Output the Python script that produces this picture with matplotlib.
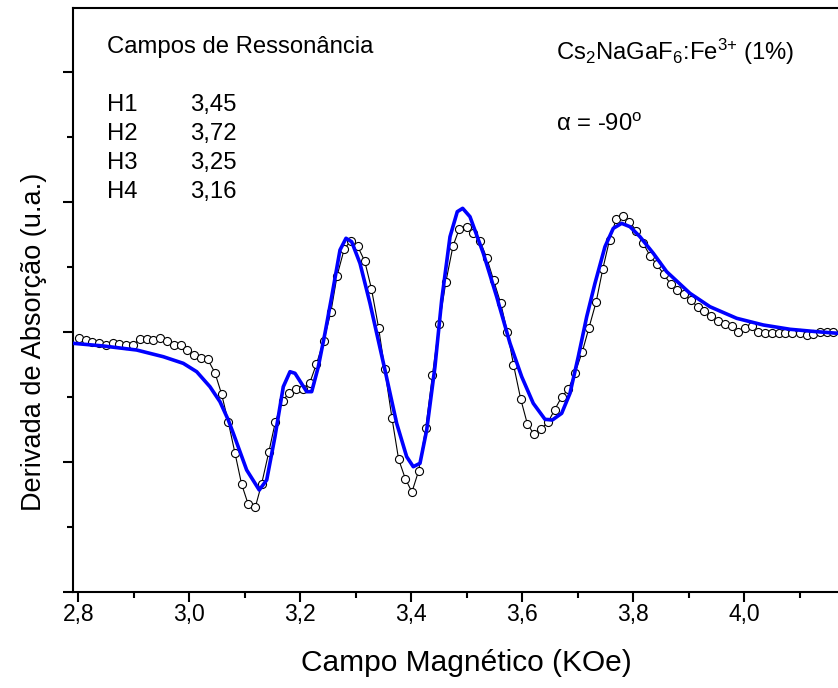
import matplotlib
matplotlib.use("Agg")
import matplotlib.pyplot as plt
from matplotlib.ticker import FuncFormatter, MultipleLocator

plt.rcParams["font.family"] = ["Liberation Sans", "DejaVu Sans"]
plt.rcParams["mathtext.default"] = "regular"

# experimental spectrum (open circles)
field_exp = [2.801, 2.813, 2.825, 2.838, 2.850, 2.862, 2.874, 2.886, 2.898, 2.911,
             2.923, 2.935, 2.947, 2.959, 2.972, 2.984, 2.996, 3.008, 3.021, 3.033,
             3.046, 3.058, 3.070, 3.082, 3.094, 3.106, 3.119, 3.130, 3.143, 3.155,
             3.168, 3.180, 3.193, 3.205, 3.217, 3.229, 3.242, 3.255, 3.266, 3.279,
             3.291, 3.303, 3.316, 3.328, 3.341, 3.352, 3.365, 3.377, 3.389, 3.401,
             3.413, 3.426, 3.438, 3.450, 3.462, 3.475, 3.486, 3.500, 3.511, 3.524,
             3.536, 3.548, 3.561, 3.573, 3.584, 3.597, 3.609, 3.621, 3.634, 3.646,
             3.658, 3.671, 3.683, 3.695, 3.708, 3.720, 3.733, 3.745, 3.757, 3.769,
             3.781, 3.793, 3.805, 3.817, 3.830, 3.842, 3.855, 3.867, 3.878, 3.891,
             3.903, 3.916, 3.928, 3.940, 3.953, 3.965, 3.977, 3.989, 4.001, 4.013,
             4.025, 4.038, 4.050, 4.062, 4.074, 4.086, 4.100, 4.112, 4.124, 4.136,
             4.148, 4.160]
deriv_exp = [-0.097, -0.123, -0.149, -0.164, -0.205, -0.174, -0.185, -0.195, -0.195, -0.112,
             -0.103, -0.123, -0.097, -0.143, -0.195, -0.200, -0.277, -0.354, -0.405, -0.420,
             -0.626, -0.954, -1.380, -1.857, -2.338, -2.651, -2.688, -2.343, -1.851, -1.380,
             -1.057, -0.934, -0.877, -0.882, -0.780, -0.492, -0.134, 0.308, 0.862, 1.277,
             1.405, 1.323, 1.088, 0.667, 0.062, -0.574, -1.323, -1.958, -2.255, -2.462,
             -2.138, -1.472, -0.662, 0.118, 0.765, 1.323, 1.580, 1.611, 1.528, 1.395,
             1.134, 0.800, 0.441, -0.005, -0.503, -1.031, -1.415, -1.574, -1.488, -1.389,
             -1.200, -0.995, -0.877, -0.626, -0.303, 0.066, 0.466, 0.974, 1.415, 1.734,
             1.789, 1.697, 1.559, 1.374, 1.174, 1.041, 0.887, 0.738, 0.643, 0.589,
             0.487, 0.389, 0.323, 0.251, 0.174, 0.123, 0.087, -0.005, 0.056, 0.087,
             -0.005, -0.010, -0.010, -0.010, -0.010, -0.010, -0.020, -0.046, -0.036, -0.005,
             -0.005, -0.005]

# simulated spectrum (blue line)
field_sim = [2.7908, 2.8449, 2.9050, 2.9530, 2.9890, 3.0132, 3.0371, 3.0551, 3.0701, 3.0791,
             3.1032, 3.1259, 3.1393, 3.1542, 3.1692, 3.1813, 3.1903, 3.2114, 3.2204, 3.2323,
             3.2443, 3.2564, 3.2714, 3.2822, 3.2924, 3.3074, 3.3254, 3.3524, 3.3735, 3.3915,
             3.4034, 3.4155, 3.4276, 3.4425, 3.4546, 3.4696, 3.4827, 3.4924, 3.5056, 3.5296,
             3.5537, 3.5777, 3.5988, 3.6196, 3.6407, 3.6539, 3.6708, 3.6858, 3.7007, 3.7159,
             3.7308, 3.7488, 3.7638, 3.7789, 3.7939, 3.8119, 3.8359, 3.8600, 3.9020, 3.9380,
             3.9861, 4.0341, 4.0822, 4.1303, 4.1687]
deriv_sim = [-0.174, -0.215, -0.277, -0.380, -0.482, -0.611, -0.842, -1.072, -1.354, -1.558,
             -2.123, -2.431, -2.277, -1.611, -0.842, -0.611, -0.635, -0.918, -0.918, -0.534,
             -0.020, 0.543, 1.262, 1.442, 1.389, 1.057, 0.442, -0.585, -1.405, -1.918,
             -2.072, -2.020, -1.508, -0.534, 0.492, 1.466, 1.851, 1.903, 1.774, 1.211,
             0.543, -0.174, -0.688, -1.097, -1.343, -1.354, -1.251, -0.943, -0.380, 0.235,
             0.749, 1.312, 1.595, 1.672, 1.620, 1.466, 1.211, 0.928, 0.595, 0.389,
             0.211, 0.108, 0.042, 0.005, -0.020]

res_labels = ["H1", "H2", "H3", "H4"]
res_values = ["3,45", "3,72", "3,25", "3,16"]

fig = plt.figure(figsize=(8.38, 6.88), dpi=100)
ax = fig.add_axes([73 / 838, 96 / 688, 1 - 73 / 838, (592 - 8) / 688])

ax.plot(field_exp, deriv_exp, color="black", lw=0.8, marker="o", ms=5.8,
        mfc="white", mec="black", mew=0.8, zorder=2)
ax.plot(field_sim, deriv_sim, color="#0000ff", lw=2.6, zorder=3)

ax.set_xlim(2.7903, 4.1687)
ax.set_ylim(-4.0, 4.985)
ax.xaxis.set_major_locator(MultipleLocator(0.2))
ax.xaxis.set_minor_locator(MultipleLocator(0.1))
ax.yaxis.set_major_locator(MultipleLocator(2))
ax.yaxis.set_minor_locator(MultipleLocator(1))
ax.xaxis.set_major_formatter(FuncFormatter(lambda v, p: f"{v:.1f}".replace(".", ",")))
ax.yaxis.set_major_formatter(FuncFormatter(lambda v, p: ""))
ax.tick_params(which="both", direction="out", width=1.5, labelsize=16.5)
ax.tick_params(which="major", length=7)
ax.tick_params(which="minor", length=4.5)
ax.tick_params(axis="x", pad=1)
for s in ("left", "bottom", "top"):
    ax.spines[s].set_linewidth(1.5)
ax.spines["right"].set_visible(False)

ax.set_xlabel("Campo Magnético (KOe)", fontsize=21.5)
ax.set_ylabel("Derivada de Absorção (u.a.)", fontsize=19.5)
ax.xaxis.set_label_coords(0.514, -0.098)
ax.yaxis.set_label_coords(-0.034, 0.428)

fs = 17.2
ax.text(2.8515, 4.385, "Campos de Ressonância", fontsize=fs, va="center")
for i, (lab, val) in enumerate(zip(res_labels, res_values)):
    yy = 3.49 - i * 0.446
    ax.text(2.8515, yy, lab, fontsize=fs, va="center")
    ax.text(3.001, yy, val, fontsize=fs, va="center")
ax.text(3.6606, 4.31, r"Cs$_2$NaGaF$_6$:Fe$^{3{+}}$ (1%)", fontsize=fs, va="center")
ax.text(3.6606, 3.18, r"$\alpha$ = -90$^{o}$", fontsize=fs, va="center")

fig.savefig("out.png", dpi=100)
